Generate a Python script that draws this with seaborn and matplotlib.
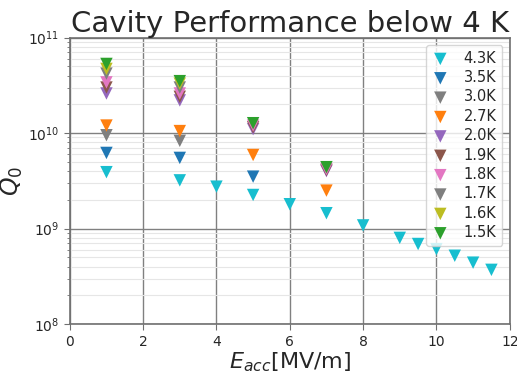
import matplotlib
matplotlib.use("Agg")
import matplotlib.pyplot as plt
import numpy as np
import pandas as pd
import seaborn as sns

# series: temperature label -> (E_acc [MV/m], Q0)
temps = ["4.3K", "3.5K", "3.0K", "2.7K", "2.0K", "1.9K", "1.8K", "1.7K", "1.6K", "1.5K"]
colors = ["tab:cyan", "tab:blue", "tab:gray", "tab:orange", "tab:purple",
          "tab:brown", "tab:pink", "tab:gray", "tab:olive", "tab:green"]

e_43 = [1, 3, 4, 5, 6, 7, 8, 9, 9.5, 10, 10.5, 11, 11.5]
q_43 = [3.9e9, 3.2e9, 2.75e9, 2.25e9, 1.8e9, 1.45e9, 1.08e9, 8.0e8, 6.9e8, 6.1e8, 5.2e8, 4.4e8, 3.7e8]
e_35 = [1, 3, 5]
q_35 = [6.2e9, 5.5e9, 3.5e9]
e_30 = [1, 3]
q_30 = [9.5e9, 8.3e9]
e_27 = [1, 3, 5, 7]
q_27 = [1.2e10, 1.05e10, 5.9e9, 2.5e9]
e_20 = [1, 3, 5, 7]
q_20 = [2.6e10, 2.2e10, 1.1e10, 4.0e9]
e_19 = [1, 3, 5, 7]
q_19 = [3.0e10, 2.4e10, 1.15e10, 4.1e9]
e_18 = [1, 3, 5, 7]
q_18 = [3.4e10, 2.6e10, 1.2e10, 4.2e9]
e_17 = [1, 3]
q_17 = [4.2e10, 3.0e10]
e_16 = [1, 3]
q_16 = [4.7e10, 3.3e10]
e_15 = [1, 3, 5, 7]
q_15 = [5.3e10, 3.5e10, 1.27e10, 4.4e9]

series = [(e_43, q_43), (e_35, q_35), (e_30, q_30), (e_27, q_27), (e_20, q_20),
          (e_19, q_19), (e_18, q_18), (e_17, q_17), (e_16, q_16), (e_15, q_15)]

sns.set_style("ticks")
plt.rcParams["font.family"] = ["DejaVu Sans"]
plt.rcParams["axes.edgecolor"] = "#707070"

fig = plt.figure(figsize=(5.17, 3.76), dpi=100)
ax = fig.add_axes([0.135, 0.138, 0.851, 0.762])

for label, color, (e, q) in zip(temps, colors, series):
    df = pd.DataFrame({"E": e, "Q": q})
    sns.scatterplot(data=df, x="E", y="Q", ax=ax, marker="v", s=80, color=color,
                    edgecolor="none", label=label, zorder=3)

ax.set_yscale("log")
ax.set_xlim(0, 12)
ax.set_ylim(1e8, 1e11)
ax.set_xticks(np.arange(0, 13, 2))

ax.grid(True, which="major", color="#808080", linewidth=1.0)
ax.grid(True, which="minor", axis="y", color="#e6e6e6", linewidth=0.8)
ax.set_axisbelow(True)
ax.tick_params(which="both", direction="out", color="#707070", labelsize=10)
ax.tick_params(which="major", length=4)
ax.tick_params(which="minor", length=2)
for sp in ax.spines.values():
    sp.set_linewidth(1.2)

ax.set_title("Cavity Performance below 4 K", fontsize=21, pad=4)
ax.set_xlabel("$E_{acc}$[MV/m]", fontsize=16, labelpad=1)
ax.set_ylabel("$Q_0$", fontsize=17, labelpad=2)
ax.legend(loc="upper right", fontsize=10.5, frameon=True, framealpha=0.8, handlelength=1.2,
          handletextpad=1.0, borderpad=0.4, labelspacing=0.3)

fig.savefig("out.png", dpi=100)
